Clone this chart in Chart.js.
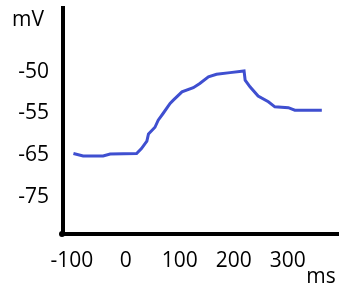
<!DOCTYPE html>
<html>
<head>
<meta charset="utf-8">
<script src="https://cdn.jsdelivr.net/npm/chart.js@4.4.1/dist/chart.umd.min.js"></script>
<style>
  html, body { margin: 0; padding: 0; background: #fff; }
  canvas { display: block; }
</style>
</head>
<body>
<canvas id="traceChart" width="339" height="295"></canvas>
<script>
// Membrane potential trace
const timeMs = [-97, -79, -42, -29, 20, 29, 39, 42, 54, 60, 69, 82, 88, 104, 125, 137, 153, 168, 193, 219, 221, 230, 245, 264, 276, 301, 313, 363];
const voltMv = [-64.6, -65.2, -65.2, -64.7, -64.6, -63.4, -61.6, -59.9, -58.3, -56.6, -55.0, -53.8, -53.4, -52.4, -51.9, -51.4, -50.6, -50.3, -50.1, -49.9, -51.0, -51.8, -52.9, -53.6, -54.2, -54.3, -54.6, -54.6];

// Axis labels
const xTicks = [-100, 0, 100, 200, 300];
const yTicks = [-50, -55, -65, -75];

// the mV axis is drawn with its labels evenly spaced, so map mV onto label slots
const mvToSlot = (v) => {
  if (v >= yTicks[0]) return (yTicks[0] - v) / (yTicks[0] - yTicks[1]);
  for (let i = 0; i < yTicks.length - 1; i++) {
    if (v >= yTicks[i + 1]) return i + (yTicks[i] - v) / (yTicks[i] - yTicks[i + 1]);
  }
  const n = yTicks.length - 1;
  return n + (yTicks[n] - v) / (yTicks[n - 1] - yTicks[n]);
};

const points = timeMs.map((t, i) => ({ x: t, y: mvToSlot(voltMv[i]) }));

const FONT = { family: "'Open Sans', sans-serif", size: 21 };

// unit labels and the little dot at the axes corner
const unitLabels = {
  id: 'unitLabels',
  afterDraw(chart) {
    const { ctx, chartArea } = chart;
    ctx.save();
    ctx.fillStyle = '#000';
    ctx.font = `${FONT.size}px ${FONT.family}`;
    ctx.textAlign = 'center';
    ctx.textBaseline = 'middle';
    ctx.fillText('mV', chartArea.left - 35, chartArea.top + 12);
    ctx.fillText('ms', chartArea.right - 18, chartArea.bottom + 43);
    ctx.beginPath();
    ctx.arc(chartArea.left - 1, chartArea.bottom, 3, 0, Math.PI * 2);
    ctx.fill();
    ctx.restore();
  }
};

const ctx = document.getElementById('traceChart').getContext('2d');
const traceChart = new Chart(ctx, {
  type: 'line',
  data: {
    datasets: [{
      data: points,
      borderColor: '#3f4fd0',
      borderWidth: 3,
      pointRadius: 0,
      tension: 0,
      fill: false
    }]
  },
  options: {
    responsive: false,
    animation: false,
    layout: { padding: { top: 8, right: 0, left: 0, bottom: 0 } },
    plugins: {
      legend: { display: false },
      tooltip: { enabled: false }
    },
    scales: {
      x: {
        type: 'linear',
        min: -116.3,
        max: 394.8,
        grid: { display: false, drawTicks: false },
        border: { display: true, color: '#000', width: 4 },
        afterBuildTicks: (scale) => { scale.ticks = xTicks.map(v => ({ value: v })); },
        afterFit: (scale) => {
          scale.height = 61;
          scale.paddingLeft = 0;
          scale.paddingRight = 0;
        },
        ticks: {
          autoSkip: false,
          maxRotation: 0,
          padding: 14,
          color: '#000',
          font: FONT,
          callback: (v) => String(v)
        }
      },
      y: {
        type: 'linear',
        reverse: true,
        min: -1.53,
        max: 3.89,
        grid: { display: false, drawTicks: false },
        border: { display: true, color: '#000', width: 4 },
        afterBuildTicks: (scale) => { scale.ticks = yTicks.map((v, i) => ({ value: i })); },
        afterFit: (scale) => {
          scale.width = 63;
          scale.paddingTop = 0;
          scale.paddingBottom = 0;
        },
        ticks: {
          autoSkip: false,
          padding: 14,
          color: '#000',
          font: FONT,
          callback: (v) => String(yTicks[Math.round(v)])
        }
      }
    }
  },
  plugins: [unitLabels]
});
</script>
</body>
</html>
